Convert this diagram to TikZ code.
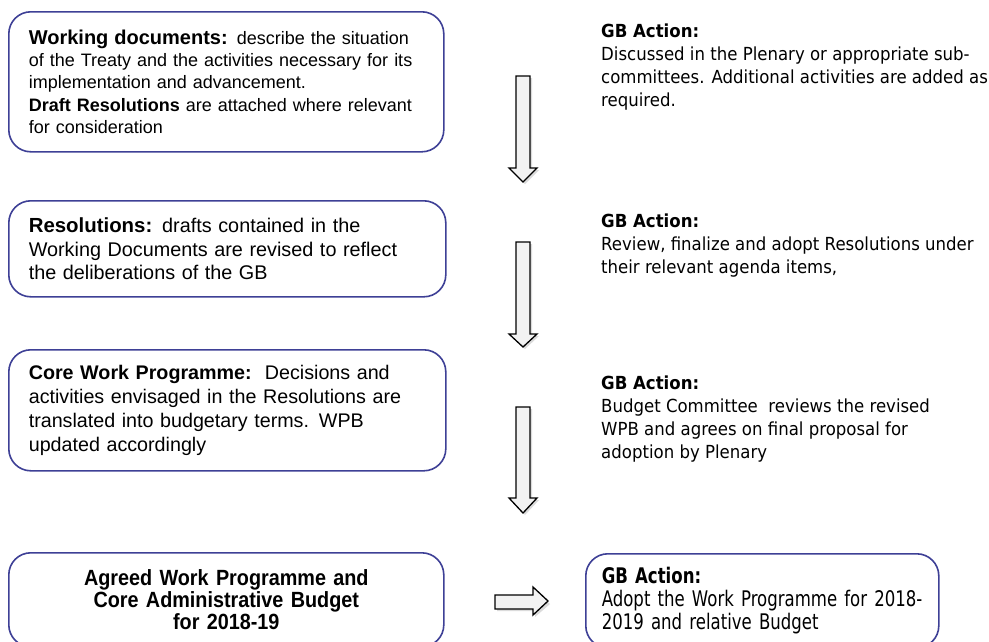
\documentclass[tikz,border=0pt]{standalone}
\usepackage{fontspec}
\setmainfont{Liberation Sans}
\newfontfamily\arialf{Liberation Sans}
\newfontfamily\narrowf{Liberation Sans}[FakeStretch=0.9]
\newfontfamily\tahomaf{DejaVu Sans}[FakeStretch=0.92]
\newfontfamily\tahomanarrowf{DejaVu Sans}[FakeStretch=0.77]
\definecolor{boxblue}{RGB}{62,64,150}
\definecolor{arrowfill}{RGB}{242,242,242}
\newcommand\hdtext[2]{{\fontsize{#1}{22}\selectfont\bfseries #2}}
\tikzset{
  roundbox/.style={draw=boxblue, line width=1.6pt, rounded corners=22pt, fill=white,
    anchor=north west, inner xsep=20pt, inner ysep=0pt, align=left},
  righttext/.style={font=\tahomaf\fontsize{18}{23}\selectfont, anchor=north west, inner sep=0pt, align=left},
  blockarrow/.style={draw=black, line width=1.3pt, fill=arrowfill, line join=miter},
  arrowshadow/.style={fill=black!35, draw=none}
}
\begin{document}
\begin{tikzpicture}[x=1pt,y=-1pt]
\useasboundingbox (0,0) rectangle (989,641);
\fill[white] (0,0) rectangle (989,641);
\clip (0,0) rectangle (989,641);

% left boxes
\node[roundbox, font=\arialf\fontsize{18}{22.3}\selectfont, text width=395pt, minimum width=435pt, minimum height=140pt] (wd) at (8,11)
 {\hdtext{20}{Working documents:} describe the situation\\
  of the Treaty and the activities necessary for its\\
  implementation and advancement.\\
  \textbf{Draft Resolutions} are attached where relevant\\
  for consideration};
\node[roundbox, font=\arialf\fontsize{19.8}{23.5}\selectfont, text width=397pt, minimum width=437pt, minimum height=96pt] (res) at (8,200)
 {\hdtext{20.4}{Resolutions:} drafts contained in the\\
  Working Documents are revised to reflect\\
  the deliberations of the GB};
\node[roundbox, font=\arialf\fontsize{19.7}{24}\selectfont, text width=397pt, minimum width=437pt, minimum height=121pt] (cwp) at (8,349)
 {\textbf{Core Work Programme:}\, Decisions and\\
  activities envisaged in the Resolutions are\\
  translated into budgetary terms. WPB\\
  updated accordingly};
\node[roundbox, text width=395pt, minimum width=435pt, minimum height=94pt, align=center,
  font=\narrowf\bfseries\fontsize{22}{22}\selectfont] (agreed) at (8,552)
 {Agreed Work Programme and\\
  Core Administrative Budget\\
  for 2018-19};
\node[roundbox, text width=321pt, minimum width=353pt, minimum height=94pt, inner xsep=16pt,
  font=\tahomanarrowf\fontsize{21.5}{23}\selectfont] (adopt) at (585,553)
 {\textbf{GB Action:}\\
  Adopt the Work Programme for 2018-\\
  2019 and relative Budget};

% right texts
\node[righttext] (ga1) at (601,24)
 {\textbf{GB Action:}\\
  Discussed in the Plenary or appropriate sub-\\
  committees. Additional activities are added as\\
  required.};
\node[righttext] (ga2) at (601,214)
 {\textbf{GB Action:}\\
  Review, finalize and adopt Resolutions under\\
  their relevant agenda items,};
\node[righttext] (ga3) at (601,376)
 {\textbf{GB Action:}\\
  Budget Committee\ \ reviews the revised\\
  WPB and agrees on final proposal for\\
  adoption by Plenary};

% block arrows (down)
\foreach \t/\h/\b in {76/168/182, 242/334/347, 407/498/513}{
  \fill[arrowshadow, opacity=0.4] (518,\t+2) -- (532,\t+2) -- (532,\h+2) -- (539,\h+2) -- (525,\b+2) -- (511,\h+2) -- (518,\h+2) -- cycle;
  \draw[blockarrow] (516,\t) -- (530,\t) -- (530,\h) -- (537,\h) -- (523,\b) -- (509,\h) -- (516,\h) -- cycle;
}
% block arrow (right)
\fill[arrowshadow, opacity=0.4] (497,597) -- (535,597) -- (535,589) -- (550,604) -- (535,617) -- (535,611) -- (497,611) -- cycle;
\draw[blockarrow] (495,595) -- (533,595) -- (533,587) -- (548,601) -- (533,615) -- (533,609) -- (495,609) -- cycle;
\end{tikzpicture}
\end{document}
